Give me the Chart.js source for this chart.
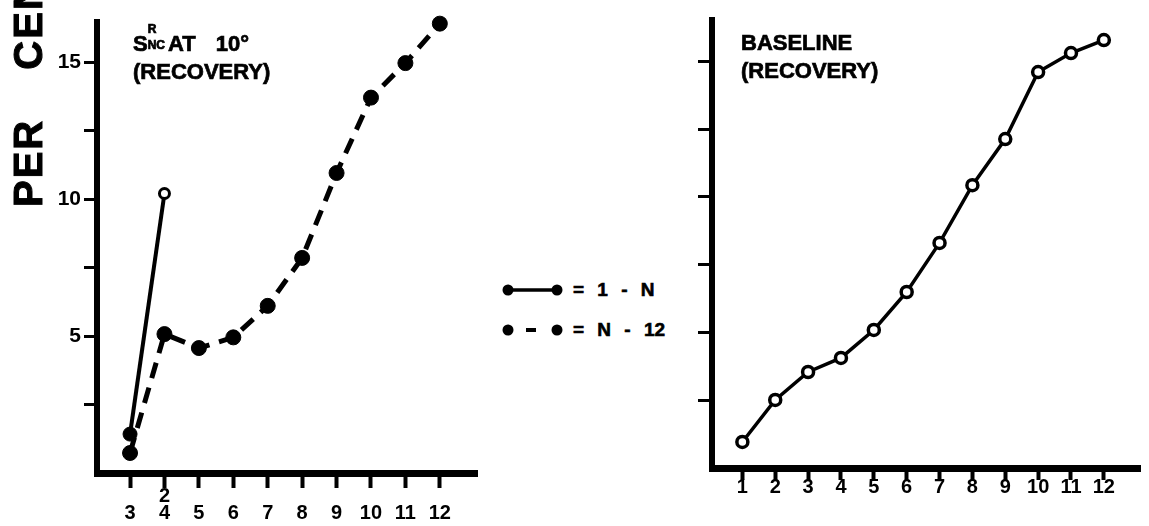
<!DOCTYPE html>
<html><head><meta charset="utf-8">
<script src="https://cdn.jsdelivr.net/npm/chart.js@4.4.1/dist/chart.umd.min.js"></script>
<style>
html,body{margin:0;padding:0;background:#fff;}
body{width:1149px;height:526px;position:relative;overflow:hidden;font-family:'Liberation Sans',Arial,sans-serif;color:#000;}
canvas{position:absolute;top:0;}
#cL{left:0;}
#cR{left:680px;}
.ttl{position:absolute;font-weight:bold;font-size:22px;line-height:28px;white-space:nowrap;-webkit-text-stroke:0.7px #000;}
.stk{position:relative;display:inline-block;width:15px;height:22px;}
.stk span{position:absolute;left:0;font-size:12px;line-height:12px;font-weight:bold;}
.ylab{position:absolute;left:8px;top:207px;transform-origin:0 0;transform:rotate(-90deg);font-weight:bold;font-size:40px;line-height:40px;letter-spacing:2px;word-spacing:36px;white-space:nowrap;-webkit-text-stroke:1px #000;}
.leg{position:absolute;left:573px;font-weight:bold;font-size:19px;line-height:20px;white-space:nowrap;word-spacing:8px;-webkit-text-stroke:0.6px #000;}
#legsvg{position:absolute;left:500px;top:278px;}
</style></head>
<body>
<canvas id="cL" width="490" height="526"></canvas>
<canvas id="cR" width="469" height="526"></canvas>
<div class="ylab">PER CENT</div>
<div class="ttl" style="left:133px;top:29px;">S<span class="stk"><span style="top:-6px;">R</span><span style="top:10px;">NC</span></span> AT<span style="margin-left:20px;">10°</span><br>(RECOVERY)</div>
<div class="ttl" style="left:741px;top:29px;">BASELINE<br>(RECOVERY)</div>
<svg id="legsvg" width="70" height="64">
  <line x1="8" y1="12" x2="58" y2="12" stroke="#000" stroke-width="3.5"/>
  <circle cx="8" cy="12" r="5.5" fill="#000"/>
  <circle cx="57" cy="12" r="5.5" fill="#000"/>
  <line x1="26" y1="52" x2="36" y2="52" stroke="#000" stroke-width="4"/>
  <circle cx="8" cy="52" r="5.5" fill="#000"/>
  <circle cx="57" cy="52" r="5.5" fill="#000"/>
</svg>
<div class="leg" style="top:280px;">= 1 - N</div>
<div class="leg" style="top:320px;">= N - 12</div>
<script>
// ---- data ----
const leftXValues = [3, 4, 5, 6, 7, 8, 9, 10, 11, 12];
const leftXTickLabels = [['', '3'], ['2', '4'], ['', '5'], ['', '6'], ['', '7'], ['', '8'], ['', '9'], ['', '10'], ['', '11'], ['', '12']];
const oneToN_X = [3, 4];
const oneToN_Y = [1.42, 10.2];
const nTo12_X = [3, 4, 5, 6, 7, 8, 9, 10, 11, 12];
const nTo12_Y = [0.73, 5.07, 4.56, 4.95, 6.1, 7.85, 10.95, 13.7, 14.96, 16.4];
const baselineX = [1, 2, 3, 4, 5, 6, 7, 8, 9, 10, 11, 12];
const baselineY = [0.96, 2.51, 3.54, 4.06, 5.09, 6.49, 8.3, 10.43, 12.13, 14.6, 15.3, 15.78];
const rightXTickLabels = ['1', '2', '3', '4', '5', '6', '7', '8', '9', '10', '11', '12'];
const yTickValues = [2.5, 5, 7.5, 10, 12.5, 15];
const yTickLabels = ['', '5', '', '10', '', '15'];

const FONT = "'Liberation Sans', Arial, sans-serif";
const pts = (xs, ys) => xs.map((x, i) => ({x: x, y: ys[i]}));

function yScale(max, labels, width, tickLen) {
  return {
    type: 'linear', min: 0, max: max,
    afterBuildTicks: s => { s.ticks = yTickValues.map(v => ({value: v})); },
    afterFit: s => { s.width = width; },
    grid: {display: true, drawOnChartArea: false, drawTicks: true, tickLength: tickLen, tickWidth: 3, tickColor: '#000'},
    border: {display: true, width: 6, color: '#000'},
    ticks: {autoSkip: false, padding: 3, color: '#000',
      callback: (v, i) => labels ? labels[i] : '',
      font: {family: FONT, weight: 'bold', size: 21}}
  };
}
function xScale(min, max, values, labels, height, tickLen, pad) {
  return {
    type: 'linear', min: min, max: max,
    afterBuildTicks: s => { s.ticks = values.map(v => ({value: v})); },
    afterFit: s => { s.height = height; },
    grid: {display: true, drawOnChartArea: false, drawTicks: true, tickLength: tickLen, tickWidth: 4, tickColor: '#000'},
    border: {display: true, width: 7, color: '#000'},
    ticks: {autoSkip: false, maxRotation: 0, minRotation: 0, padding: pad, color: '#000',
      callback: (v, i) => labels[i],
      font: {family: FONT, weight: 'bold', size: 20, lineHeight: 0.85}}
  };
}
const common = {
  responsive: false, animation: false, devicePixelRatio: 1,
  plugins: {legend: {display: false}, tooltip: {enabled: false}},
};

new Chart(document.getElementById('cL'), {
  type: 'line',
  data: {datasets: [
    {label: '1 - N', data: pts(oneToN_X, oneToN_Y), borderColor: '#000', borderWidth: 4,
     pointRadius: [7, 5], pointBackgroundColor: ['#000', '#fff'], pointBorderColor: '#000', pointBorderWidth: [1, 3], clip: false},
    {label: 'N - 12', data: pts(nTo12_X, nTo12_Y), borderColor: '#000', borderWidth: 5, borderDash: [16, 10],
     pointRadius: 7.5, pointBackgroundColor: '#000', pointBorderColor: '#000', pointBorderWidth: 1, clip: false}
  ]},
  options: Object.assign({}, common, {
    layout: {padding: {left: 0, top: 22, right: 13, bottom: 0}},
    scales: {
      x: xScale(2.04, 13.08, leftXValues, leftXTickLabels, 53, 15, 0),
      y: yScale(16.46, yTickLabels, 97, 13)
    }
  })
});

new Chart(document.getElementById('cR'), {
  type: 'line',
  data: {datasets: [
    {label: 'Baseline', data: pts(baselineX, baselineY), borderColor: '#000', borderWidth: 3.5,
     pointRadius: 5.5, pointBackgroundColor: '#fff', pointBorderColor: '#000', pointBorderWidth: 3.5, clip: false}
  ]},
  options: Object.assign({}, common, {
    layout: {padding: {left: 0, top: 20, right: 0, bottom: 0}},
    scales: {
      x: xScale(0.076, 13.1, baselineX, rightXTickLabels, 58, 12, -1),
      y: yScale(16.52, null, 32, 14)
    }
  })
});
</script>
</body></html>
